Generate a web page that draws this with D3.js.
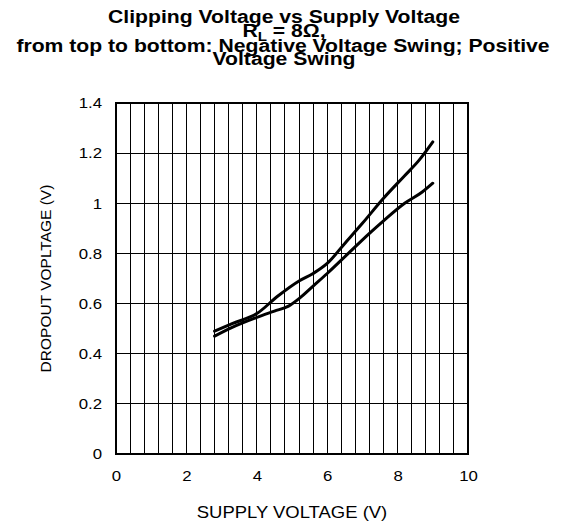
<!DOCTYPE html>
<html><head><meta charset="utf-8">
<script src="https://cdn.jsdelivr.net/npm/d3@7"></script>
<style>body{margin:0;background:#fff}svg{display:block}text{font-family:"Liberation Sans",Arial,sans-serif}</style>
</head><body>
<svg id="c" width="567" height="523"></svg>
<script>
const negSwingX = [2.8, 3.3, 4.0, 4.6, 5.2, 5.6, 6.0, 6.5, 7.0, 7.6, 8.2, 8.6, 9.0];
const negSwingY = [0.49, 0.52, 0.56, 0.63, 0.69, 0.72, 0.76, 0.84, 0.92, 1.02, 1.11, 1.17, 1.245];
const posSwingX = [2.8, 3.3, 4.0, 4.5, 4.9, 5.2, 5.6, 6.0, 6.6, 7.2, 7.6, 8.2, 8.7, 9.0];
const posSwingY = [0.47, 0.505, 0.545, 0.57, 0.59, 0.62, 0.67, 0.72, 0.80, 0.88, 0.93, 1.0, 1.045, 1.08];
const xTicks = [0, 2, 4, 6, 8, 10];
const yTicks = [0, 0.2, 0.4, 0.6, 0.8, 1, 1.2, 1.4];
const xGrid = d3.range(0, 10.0001, 0.4);

const SX = 1.12; // slight horizontal stretch of the reference's lettering
const svg = d3.select("#c");
const L = 116, R = 468, T = 103, B = 454;
const x = d3.scaleLinear().domain([0, 10]).range([L, R]);
const y = d3.scaleLinear().domain([0, 1.4]).range([B, T]);

// grid
svg.append("g").selectAll("line").data(xGrid).join("line")
  .attr("x1", d => x(d)).attr("x2", d => x(d)).attr("y1", T).attr("y2", B)
  .attr("stroke", "#000").attr("stroke-width", 1).attr("shape-rendering", "crispEdges");
svg.append("g").selectAll("line").data(yTicks).join("line")
  .attr("x1", L).attr("x2", R).attr("y1", d => y(d)).attr("y2", d => y(d))
  .attr("stroke", "#000").attr("stroke-width", 1).attr("shape-rendering", "crispEdges");
svg.append("rect").attr("x", L).attr("y", T).attr("width", R - L).attr("height", B - T)
  .attr("fill", "none").attr("stroke", "#000").attr("stroke-width", 2);

// axes labels
const xa = svg.append("g").attr("transform", `translate(0,${B})`)
  .call(d3.axisBottom(x).tickValues(xTicks).tickSize(0).tickPadding(16).tickFormat(d3.format("d")));
xa.select(".domain").remove();
xa.selectAll("text").attr("font-size", 15).attr("fill", "#000")
  .attr("transform", `scale(${SX},1)`).style("font-family", "Liberation Sans, Arial, sans-serif");
const ya = svg.append("g").attr("transform", `translate(${L},0)`)
  .call(d3.axisLeft(y).tickValues(yTicks).tickSize(0).tickPadding(14).tickFormat(d => d3.format("")(+d.toFixed(1))));
ya.select(".domain").remove();
ya.selectAll("text").attr("font-size", 15).attr("fill", "#000").attr("x", -14 / SX)
  .attr("transform", `scale(${SX},1)`).style("font-family", "Liberation Sans, Arial, sans-serif");

svg.append("text").attr("transform", `translate(292,518) scale(${SX},1)`).attr("text-anchor", "middle")
  .attr("font-size", 16.5).text("SUPPLY VOLTAGE (V)");
svg.append("text").attr("transform", `translate(51,${(T + B) / 2}) rotate(-90)`).attr("text-anchor", "middle")
  .attr("font-size", 15.5).text("DROPOUT VOPLTAGE (V)");

// title
const TS = 1.21;
const tt = svg.append("g").attr("font-weight", "bold").attr("font-size", 17.5).attr("text-anchor", "middle");
tt.append("text").attr("transform", `translate(284,23) scale(${TS},1)`).text("Clipping Voltage vs Supply Voltage");
const t2 = tt.append("text").attr("transform", `translate(284,37) scale(${TS},1)`);
t2.append("tspan").text("R");
t2.append("tspan").attr("dy", 4).attr("font-size", 12.5).text("L");
t2.append("tspan").attr("dy", -4).text(" = 8Ω,");
tt.append("text").attr("transform", `translate(283,52) scale(${TS},1)`).text("from top to bottom: Negative Voltage Swing; Positive");
tt.append("text").attr("transform", `translate(284,65) scale(${TS},1)`).text("Voltage Swing");

// lines
const line = d3.line().x(d => x(d[0])).y(d => y(d[1])).curve(d3.curveMonotoneX);
[[negSwingX, negSwingY], [posSwingX, posSwingY]].forEach(([xs, ys]) => {
  svg.append("path").datum(xs.map((v, i) => [v, ys[i]])).attr("d", line)
    .attr("fill", "none").attr("stroke", "#000").attr("stroke-width", 3).attr("stroke-linecap", "round").attr("stroke-linejoin", "round");
});
</script>
</body></html>
